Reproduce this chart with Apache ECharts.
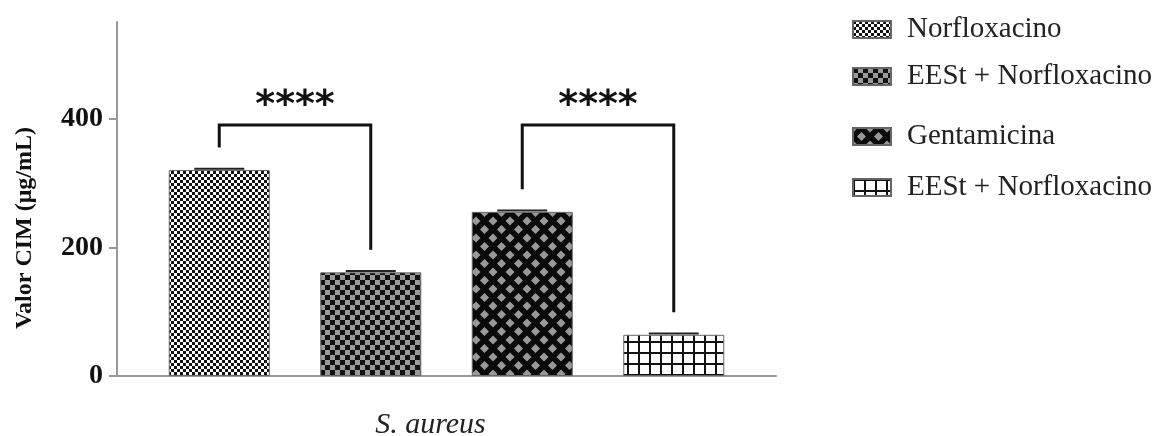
<!DOCTYPE html>
<html>
<head>
    <meta charset='utf-8'>
    <script src="https://cdn.jsdelivr.net/npm/echarts@6/dist/echarts.min.js"></script>
</head>
<body>
<style>
    html, body, #main {
        width: 1162px;
        height: 436px;
        margin: 0;
        padding: 0;
        background: #fff;
    }
</style>
<div id="main"></div>
<script>
    var categories = ['S. aureus'];
    var seriesNames = ['Norfloxacino', 'EESt + Norfloxacino', 'Gentamicina', 'EESt + Norfloxacino '];
    var barValues = [320, 161, 255, 64];
    var barErrors = [2, 2, 2, 2];
    var yTicks = [0, 200, 400];
    // pairs of bars compared, with the significance mark
    var brackets = [[0, 1], [2, 3]];
    var bracketMarks = ['****', '****'];
    var bracketTop = 390;
    var legGap = 35;

    var BAR_W = 101;
    var SERIF = 'Liberation Serif';

    function pattern(size, draw) {
        var c = document.createElement('canvas');
        c.width = c.height = size;
        draw(c.getContext('2d'), size);
        return {image: c, repeat: 'repeat'};
    }

    var fills = [
        pattern(6, function (ctx) {
            ctx.fillStyle = '#fff'; ctx.fillRect(0, 0, 6, 6);
            ctx.fillStyle = '#111'; ctx.fillRect(0, 0, 3, 3); ctx.fillRect(3, 3, 3, 3);
        }),
        pattern(10, function (ctx) {
            ctx.fillStyle = '#9a9a9a'; ctx.fillRect(0, 0, 10, 10);
            ctx.fillStyle = '#111'; ctx.fillRect(0, 0, 5, 5); ctx.fillRect(5, 5, 5, 5);
        }),
        pattern(17, function (ctx, s) {
            ctx.fillStyle = '#0a0a0a'; ctx.fillRect(0, 0, s, s);
            ctx.fillStyle = '#999';
            var r = 4.5;
            [[s / 2, s / 2], [0, 0], [s, 0], [0, s], [s, s]].forEach(function (p) {
                ctx.beginPath();
                ctx.moveTo(p[0], p[1] - r); ctx.lineTo(p[0] + r, p[1]);
                ctx.lineTo(p[0], p[1] + r); ctx.lineTo(p[0] - r, p[1]);
                ctx.closePath(); ctx.fill();
            });
        }),
        pattern(11, function (ctx) {
            ctx.fillStyle = '#fff'; ctx.fillRect(0, 0, 11, 11);
            ctx.fillStyle = '#111'; ctx.fillRect(0, 0, 2, 11); ctx.fillRect(0, 0, 11, 2);
        })
    ];

    function barX(api, i) {
        var center = api.coord([0, 0])[0];
        return center + (i - 1.5) * BAR_W * 1.5;
    }

    var chart = echarts.init(document.getElementById('main'));

    var series = seriesNames.map(function (name, i) {
        var data = categories.map(function () { return barValues[i]; });
        return {
            name: name,
            type: 'bar',
            data: data,
            barWidth: BAR_W,
            barGap: '50%',
            itemStyle: {color: fills[i], borderColor: '#666', borderWidth: 1}
        };
    });

    // error caps
    series.push({
        type: 'custom',
        silent: true,
        data: barValues.map(function (v, i) { return [0, v + barErrors[i], i]; }),
        renderItem: function (params, api) {
            var i = api.value(2);
            var x = barX(api, i);
            var y = api.coord([0, api.value(1)])[1];
            return {
                type: 'line',
                shape: {x1: x - 25, y1: y, x2: x + 25, y2: y},
                style: {stroke: '#222', lineWidth: 2}
            };
        }
    });

    // significance brackets
    series.push({
        type: 'custom',
        silent: true,
        data: brackets.map(function (b, k) { return [0, b[0], b[1], k]; }),
        renderItem: function (params, api) {
            var a = api.value(1), b = api.value(2), k = api.value(3);
            var xa = barX(api, a), xb = barX(api, b);
            var yt = api.coord([0, bracketTop])[1];
            var ya = api.coord([0, barValues[a] + legGap])[1];
            var yb = api.coord([0, barValues[b] + legGap])[1];
            return {
                type: 'group',
                children: [{
                    type: 'polyline',
                    shape: {points: [[xa, ya], [xa, yt], [xb, yt], [xb, yb]]},
                    style: {stroke: '#111', lineWidth: 3, fill: null}
                }, {
                    type: 'text',
                    style: {
                        x: (xa + xb) / 2, y: yt - 19,
                        text: bracketMarks[k],
                        align: 'center', verticalAlign: 'middle',
                        font: 'bold 38px "DejaVu Sans"',
                        fill: '#111'
                    }
                }]
            };
        }
    });

    var legendText = {fontFamily: SERIF, fontSize: 29, color: '#222', padding: [0, 0, 0, 11]};

    chart.setOption({
        animation: false,
        legend: [{
            data: seriesNames.slice(0, 2),
            orient: 'vertical',
            icon: 'rect',
            left: 847, top: 10,
            itemWidth: 38, itemHeight: 17,
            itemGap: 18,
            selectedMode: false,
            textStyle: legendText,
            formatter: function (n) { return n.trim(); }
        }, {
            data: seriesNames.slice(2),
            orient: 'vertical',
            icon: 'rect',
            left: 847, top: 117,
            itemWidth: 38, itemHeight: 17,
            itemGap: 22,
            selectedMode: false,
            textStyle: legendText,
            formatter: function (n) { return n.trim(); }
        }],
        grid: {left: 117, right: 386, top: 22, bottom: 60, outerBoundsMode: 'none'},
        xAxis: {
            type: 'category',
            data: categories,
            axisLine: {lineStyle: {color: '#999', width: 2}},
            axisTick: {alignWithLabel: true, length: 8, lineStyle: {color: '#999', width: 2}},
            axisLabel: {
                margin: 34,
                padding: [0, 32, 0, 0],
                fontFamily: SERIF, fontStyle: 'italic', fontSize: 30, color: '#222'
            }
        },
        yAxis: {
            type: 'value',
            min: 0, max: 550,
            name: 'Valor CIM (μg/mL)',
            nameLocation: 'middle',
            nameRotate: 90,
            nameGap: 80,
            nameTextStyle: {
                fontFamily: SERIF, fontWeight: 'bold', fontSize: 24, color: '#111',
                padding: [0, 58, 0, 0]
            },
            axisLine: {show: true, lineStyle: {color: '#999', width: 2}},
            axisTick: {show: true, length: 8, customValues: yTicks, lineStyle: {color: '#999', width: 2}},
            axisLabel: {
                customValues: yTicks, margin: 14,
                fontFamily: SERIF, fontWeight: 'bold', fontSize: 28, color: '#111'
            },
            splitLine: {show: false}
        },
        series: series
    });
</script>
</body>
</html>
